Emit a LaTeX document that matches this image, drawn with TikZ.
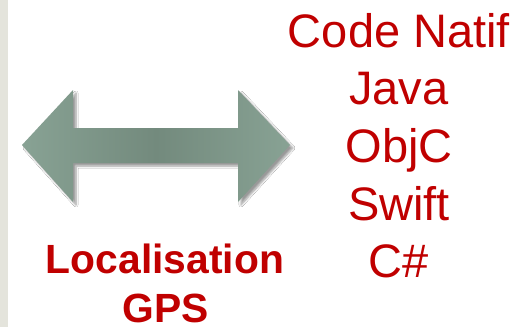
\documentclass[tikz,border=0pt]{standalone}
\usepackage{fontspec}
\setmainfont{Liberation Sans}
\usetikzlibrary{shadows.blur}
\definecolor{txtred}{HTML}{C00000}
\definecolor{arrowlight}{HTML}{88A294}
\definecolor{arrowdark}{HTML}{738A7D}
\definecolor{strip}{HTML}{E4E4DC}
\tikzset{
  langtxt/.style={anchor=base, text=txtred, inner sep=0pt, font=\fontsize{47}{56}\selectfont},
  loctxt/.style={anchor=base, text=txtred, inner sep=0pt, font=\bfseries\fontsize{40.8}{48}\selectfont},
}
\begin{document}
\begin{tikzpicture}[x=1pt,y=-1pt]
\useasboundingbox (0,0) rectangle (531,327);
\fill[white] (0,0) rectangle (531,327);
\fill[strip] (0,0) rectangle (8,327);
% double arrow
\path[left color=arrowlight, right color=arrowlight, middle color=arrowdark,
  blur shadow={shadow xshift=3pt, shadow yshift=-3pt, shadow blur steps=6, shadow opacity=40}]
  (22,145) -- (73,90) -- (73,128) -- (238,128) -- (238,90) -- (290,145)
  -- (238,202) -- (238,163) -- (73,163) -- (73,202) -- cycle;
% texts
\node[langtxt] (l1) at (399,47) {Code Natif};
\node[langtxt] (l2) at (399,104) {Java};
\node[langtxt] (l3) at (399,162) {ObjC};
\node[langtxt] (l4) at (399,220) {Swift};
\node[langtxt] (l5) at (399,277) {C\#};
\node[loctxt] (g1) at (165,273) {Localisation};
\node[loctxt] (g2) at (166,322) {GPS};
\end{tikzpicture}
\end{document}
